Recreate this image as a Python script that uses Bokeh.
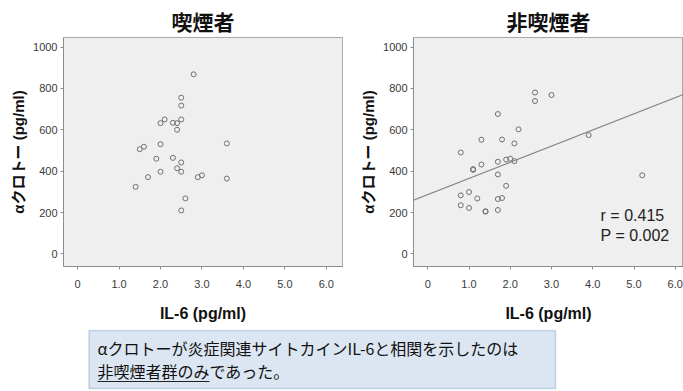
from bokeh.plotting import figure
from bokeh.models import Range1d, FixedTicker, Slope, Label, BoxAnnotation
from bokeh.layouts import column, row
from bokeh.embed import file_html
from bokeh.resources import INLINE

# ---- data ----
smoker_il6 = [2.8, 2.5, 2.5, 2.0, 2.1, 2.3, 2.4, 2.5, 2.4, 2.0, 1.5, 1.6, 3.6,
              1.9, 2.3, 2.5, 2.4, 2.0, 2.5, 1.7, 2.9, 3.0, 3.6, 1.4, 2.6, 2.5]
smoker_klotho = [868, 755, 717, 632, 650, 634, 632, 650, 600, 530, 506, 518, 534,
                 460, 464, 442, 414, 397, 397, 371, 371, 380, 364, 324, 268, 210]

nonsmoker_il6 = [2.6, 2.6, 3.0, 1.7, 2.2, 1.3, 1.8, 2.1, 0.8, 3.9, 1.7, 1.9, 2.0,
                 2.1, 1.3, 1.1, 1.1, 1.7, 1.9, 0.8, 1.0, 1.2, 1.7, 1.8, 0.8, 1.0,
                 1.4, 1.4, 1.7, 5.2]
nonsmoker_klotho = [780, 739, 768, 676, 602, 552, 553, 534, 490, 574, 445, 456, 460,
                    448, 432, 410, 406, 384, 329, 283, 299, 268, 265, 270, 235, 222,
                    206, 204, 212, 380]

reg_slope = 78.0
reg_intercept = 287.0
r_text = "r = 0.415"
p_text = "P = 0.002"

x_ticks = [0, 1, 2, 3, 4, 5, 6]
x_tick_labels = ["0", "1.0", "2.0", "3.0", "4.0", "5.0", "6.0"]
y_ticks = [0, 200, 400, 600, 800, 1000]

titles = ["喫煙者", "非喫煙者"]
x_label = "IL-6 (pg/ml)"
y_label = "αクロトー (pg/ml)"
note_line1 = "αクロトーが炎症関連サイトカインIL-6と相関を示したのは"
note_line2_underlined = "非喫煙者群のみ"
note_line2_rest = "であった。"

LATIN = "Liberation Sans"
MIXED = "'Liberation Sans', 'Noto Sans CJK JP', sans-serif"
CJK = "Noto Sans CJK JP"

TOTAL_W, TOTAL_H = 683, 391
FRAME_TOP, FRAME_H = 37, 229
BORDER_BOTTOM = 63
PLOT_H = FRAME_TOP + FRAME_H + BORDER_BOTTOM


def make_panel(title, xs, ys, width, x_range, border_left, border_right, title_offset):
    p = figure(width=width, height=PLOT_H, output_backend="svg", toolbar_location=None,
               x_range=x_range, y_range=Range1d(-61, 1046),
               min_border_left=border_left, min_border_right=border_right,
               min_border_top=FRAME_TOP, min_border_bottom=BORDER_BOTTOM,
               title=title)
    p.title.align = "center"
    p.title.offset = title_offset
    p.title.text_font = CJK
    p.title.text_font_size = "21px"
    p.title.text_font_style = "bold"
    p.title.text_color = "#111111"
    p.title.standoff = 4
    p.background_fill_color = "#efefef"
    p.border_fill_color = "white"
    p.outline_line_color = "#a8a8a8"
    p.xgrid.visible = False
    p.ygrid.visible = False

    for ax in (p.xaxis[0], p.yaxis[0]):
        ax.axis_line_color = "#8c8c8c"
        ax.major_tick_line_color = "#8c8c8c"
        ax.major_tick_out = 3
        ax.major_tick_in = 0
        ax.minor_tick_line_color = None
        ax.major_label_text_font = LATIN
        ax.major_label_text_font_size = "11px"
        ax.major_label_text_color = "#3a3a3a"
        ax.axis_label_text_font_style = "bold"
        ax.axis_label_text_color = "#111111"

    p.xaxis.ticker = FixedTicker(ticks=x_ticks)
    p.xaxis.major_label_overrides = {t: l for t, l in zip(x_ticks, x_tick_labels)}
    p.xaxis.major_label_standoff = 10
    p.xaxis.axis_label = x_label
    p.xaxis.axis_label_text_font = LATIN
    p.xaxis.axis_label_text_font_size = "16px"
    p.xaxis.axis_label_standoff = 14

    p.yaxis.ticker = FixedTicker(ticks=y_ticks)
    p.yaxis.major_label_standoff = 3
    p.yaxis.axis_label = y_label
    p.yaxis.axis_label_text_font = MIXED
    p.yaxis.axis_label_text_font_size = "15px"
    p.yaxis.axis_label_standoff = 3

    p.scatter(xs, ys, marker="circle", size=5, fill_color=None,
              line_color="#707070", line_width=1)
    return p


p1 = make_panel(titles[0], smoker_il6, smoker_klotho, 345, Range1d(-0.34, 6.39), 63, 3, -8)
p2 = make_panel(titles[1], nonsmoker_il6, nonsmoker_klotho, TOTAL_W - 345,
                Range1d(-0.346, 6.2), 68, 0, 0)

p2.add_layout(Slope(gradient=reg_slope, y_intercept=reg_intercept,
                    line_color="#858585", line_width=1.2))
for txt, yv in ((r_text, 184), (p_text, 87)):
    p2.add_layout(Label(x=4.19, y=yv, text=txt, text_font=LATIN,
                        text_font_size="16px", text_color="#222222",
                        text_baseline="middle", text_align="left"))

# ---- note box (pixel-like coordinate space, y downwards) ----
NOTE_W, NOTE_H = TOTAL_W, TOTAL_H - PLOT_H
note = figure(width=NOTE_W, height=NOTE_H, output_backend="svg", toolbar_location=None,
              x_range=Range1d(0, NOTE_W), y_range=Range1d(NOTE_H, 0),
              min_border=0, min_border_left=0, min_border_right=0,
              min_border_top=0, min_border_bottom=0)
note.axis.visible = False
note.xgrid.visible = False
note.ygrid.visible = False
note.outline_line_color = None
note.background_fill_color = "white"
note.border_fill_color = "white"

BOX_L, BOX_R, BOX_T, BOX_B = 88.5, 555, 1, 59
TX = 97
note.add_layout(BoxAnnotation(left=BOX_L, right=BOX_R, top=BOX_T, bottom=BOX_B,
                              fill_color="#dce6f2", fill_alpha=1.0,
                              line_color="#4f81bd", line_width=1.5))
note.add_layout(Label(x=TX, y=18, text=note_line1, text_font=CJK,
                      text_font_size="16px", text_color="#111111",
                      text_baseline="middle", text_align="left"))
note.add_layout(Label(x=TX, y=41, text=note_line2_underlined, text_font=CJK,
                      text_font_size="16px", text_color="#111111",
                      text_baseline="middle", text_align="left"))
note.add_layout(Label(x=TX + 16 * len(note_line2_underlined), y=41, text=note_line2_rest,
                      text_font=CJK, text_font_size="16px", text_color="#111111",
                      text_baseline="middle", text_align="left"))
note.add_layout(BoxAnnotation(left=TX, right=TX + 16 * len(note_line2_underlined),
                              top=51.4, bottom=52.6, fill_color="#222222",
                              fill_alpha=1.0, line_color=None))

layout = column(row(p1, p2), note)

open("out.html", "w").write(file_html(layout, INLINE))
